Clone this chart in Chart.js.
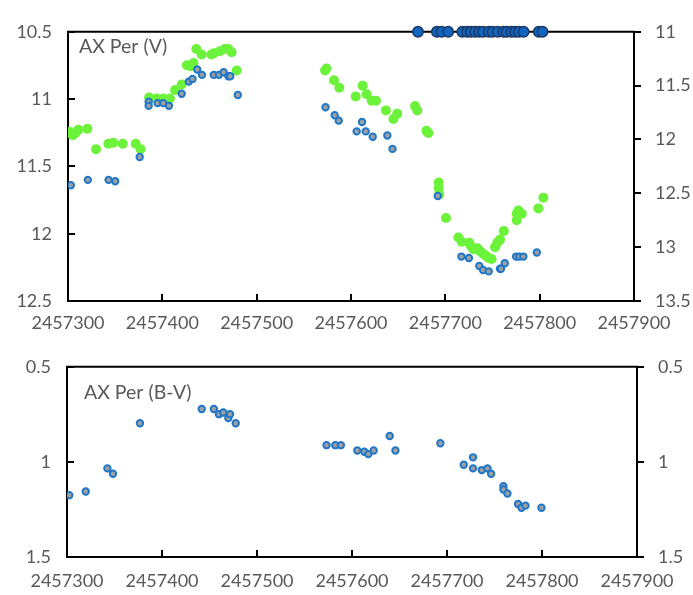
<!DOCTYPE html>
<html>
<head>
<meta charset="utf-8">
<script src="https://cdn.jsdelivr.net/npm/chart.js@4.4.0/dist/chart.umd.min.js"></script>
<style>
  body { margin: 0; background: #fff; }
  canvas { position: absolute; left: 0; }
  #topChart { top: 0; }
  #botChart { top: 335px; }
</style>
</head>
<body>
<canvas id="topChart" width="693" height="335"></canvas>
<canvas id="botChart" width="693" height="260"></canvas>
<script>
// --- V band (blue rings, left axis) ---
const vJd = [2457303, 2457321, 2457343, 2457350, 2457376, 2457385.5, 2457385.5, 2457395, 2457401, 2457407,
  2457420.5, 2457428, 2457432, 2457437, 2457442, 2457454.5, 2457460, 2457465, 2457470, 2457472, 2457480,
  2457573, 2457582.7, 2457587, 2457606, 2457611.7, 2457615.6, 2457623, 2457638.5, 2457644,
  2457692, 2457717, 2457725, 2457736, 2457740, 2457746, 2457758, 2457759, 2457763, 2457775, 2457778.5, 2457782.7, 2457797];
const vMag = [11.64, 11.60, 11.60, 11.61, 11.43, 11.02, 11.05, 11.03, 11.03, 11.05,
  10.96, 10.87, 10.85, 10.78, 10.82, 10.82, 10.82, 10.80, 10.83, 10.83, 10.97,
  11.06, 11.12, 11.16, 11.24, 11.17, 11.24, 11.28, 11.27, 11.37,
  11.72, 12.17, 12.18, 12.24, 12.27, 12.28, 12.26, 12.26, 12.22, 12.17, 12.17, 12.17, 12.14];

// --- second V series (green, right axis) ---
const gJd = [2457302, 2457305, 2457308, 2457311, 2457320.5, 2457329.7, 2457342.8, 2457348, 2457358, 2457371.8, 2457377,
  2457386, 2457394, 2457401, 2457408, 2457413.5, 2457420.5, 2457426, 2457430, 2457433, 2457436, 2457441.7,
  2457452, 2457454.8, 2457461, 2457466.4, 2457470, 2457473.5, 2457478.8,
  2457572.5, 2457574, 2457582, 2457587.6, 2457605, 2457612.4, 2457616.6, 2457622, 2457626.5, 2457637, 2457645, 2457649,
  2457667.9, 2457670.3, 2457680, 2457682, 2457693, 2457693, 2457693.5, 2457700.7, 2457713.8, 2457717.4,
  2457725.4, 2457727, 2457729.7, 2457734, 2457737, 2457740, 2457743, 2457746, 2457749, 2457752.7, 2457755, 2457758,
  2457762, 2457775.7, 2457777.5, 2457775.7, 2457781, 2457798.6, 2457804];
const gMag = [11.93, 11.96, 11.94, 11.91, 11.90, 12.09, 12.04, 12.03, 12.04, 12.04, 12.09,
  11.61, 11.62, 11.62, 11.62, 11.54, 11.49, 11.31, 11.32, 11.29, 11.16, 11.21,
  11.21, 11.20, 11.18, 11.16, 11.16, 11.19, 11.36,
  11.36, 11.34, 11.45, 11.52, 11.60, 11.50, 11.58, 11.64, 11.64, 11.73, 11.81, 11.76,
  11.69, 11.73, 11.92, 11.94, 12.40, 12.45, 12.51, 12.73, 12.91, 12.95,
  12.96, 12.99, 13.02, 13.01, 13.04, 13.06, 13.08, 13.10, 13.11, 13.00, 12.96, 12.93,
  12.85, 12.69, 12.66, 12.75, 12.69, 12.64, 12.54];

// --- dark markers sitting on the top edge ---
const markJd = [2457671, 2457691, 2457696, 2457703, 2457718, 2457723, 2457727, 2457731.5, 2457736, 2457740,
  2457746, 2457750, 2457755.5, 2457761.5, 2457765, 2457770, 2457774, 2457778, 2457783, 2457799, 2457803];
const markMag = [10.5, 10.5, 10.5, 10.5, 10.5, 10.5, 10.5, 10.5, 10.5, 10.5,
  10.5, 10.5, 10.5, 10.5, 10.5, 10.5, 10.5, 10.5, 10.5, 10.5, 10.5];

// --- B-V colour index ---
const bvJd = [2457302.4, 2457319.7, 2457342.5, 2457348.4, 2457376.8, 2457441.8, 2457454.6, 2457459.9, 2457464.5,
  2457469.8, 2457471.6, 2457477.6, 2457573.2, 2457582.4, 2457588.3, 2457605.6, 2457613, 2457617.2, 2457622.8,
  2457639.7, 2457645.7, 2457693, 2457717.6, 2457727.4, 2457727.4, 2457736.6, 2457742.6, 2457746.4,
  2457759.4, 2457759.4, 2457763.6, 2457774.8, 2457778.4, 2457782.6, 2457799.4];
const bvVal = [1.175, 1.156, 1.034, 1.062, 0.797, 0.722, 0.722, 0.749, 0.740,
  0.770, 0.749, 0.797, 0.912, 0.912, 0.912, 0.940, 0.947, 0.959, 0.940,
  0.864, 0.940, 0.902, 1.015, 0.976, 1.034, 1.043, 1.034, 1.062,
  1.128, 1.145, 1.166, 1.221, 1.241, 1.230, 1.241];

// axis ranges / tick steps
const jdMin = 2457300, jdMax = 2457900, jdStep = 100;
const vMin = 10.5, vMax = 12.5;
const v2Min = 11, v2Max = 13.5;
const bvMin = 0.5, bvMax = 1.5;

const pts = (xs, ys) => xs.map((x, i) => ({ x: x, y: ys[i] }));

Chart.defaults.font.family = 'Lato';
Chart.defaults.font.size = 18;
Chart.defaults.color = '#595959';

// top frame line, inner tick marks, outer right ticks, and the in-plot label
const framePlugin = {
  id: 'frame',
  beforeDatasetsDraw(chart, args, opts) {
    const { ctx, chartArea: a, scales } = chart;
    ctx.save();
    ctx.strokeStyle = '#000';
    ctx.lineWidth = 2;
    ctx.beginPath();
    ctx.moveTo(a.left - 1, a.top);
    ctx.lineTo(a.right + 1, a.top);
    scales.x.ticks.forEach((t, i) => {
      const px = Math.round(scales.x.getPixelForTick(i));
      ctx.moveTo(px, a.bottom);
      ctx.lineTo(px, a.bottom - 7);
    });
    scales.y.ticks.forEach((t, i) => {
      const py = Math.round(scales.y.getPixelForTick(i));
      ctx.moveTo(a.left, py);
      ctx.lineTo(a.left + 7, py);
    });
    scales.y2.ticks.forEach((t, i) => {
      const py = Math.round(scales.y2.getPixelForTick(i));
      ctx.moveTo(a.right, py);
      ctx.lineTo(a.right + 7, py);
    });
    ctx.stroke();
    ctx.fillStyle = '#595959';
    ctx.font = '19.5px Lato';
    ctx.textBaseline = 'middle';
    ctx.fillText(opts.label, opts.lx, opts.ly);
    ctx.restore();
  }
};

function makeAxes(yMin, yMax, y2Min, y2Max, leftW, rightW, xH, xPad) {
  const border = { display: true, color: '#000', width: 2 };
  const grid = { display: false, drawTicks: false };
  return {
    x: {
      type: 'linear', min: jdMin, max: jdMax,
      border: border, grid: grid,
      ticks: { stepSize: jdStep, autoSkip: false, maxRotation: 0, padding: xPad, callback: v => String(v) },
      afterFit: s => { s.height = xH; }
    },
    y: {
      type: 'linear', position: 'left', reverse: true, min: yMin, max: yMax,
      border: border, grid: grid,
      ticks: { stepSize: 0.5, padding: 16, callback: v => String(v) },
      afterFit: s => { s.width = leftW; }
    },
    y2: {
      type: 'linear', position: 'right', reverse: true, min: y2Min, max: y2Max,
      border: border, grid: grid,
      ticks: { stepSize: 0.5, padding: 21, callback: v => String(v) },
      afterFit: s => { s.width = rightW; }
    }
  };
}

new Chart(document.getElementById('topChart').getContext('2d'), {
  type: 'scatter',
  data: {
    datasets: [
      {
        label: 'markers', data: pts(markJd, markMag), yAxisID: 'y', clip: false, order: 0,
        pointRadius: 5.2, backgroundColor: '#0f66c0', borderColor: '#1d3763', borderWidth: 1.5
      },
      {
        label: 'V', data: pts(vJd, vMag), yAxisID: 'y', order: 1,
        pointRadius: 3.2, backgroundColor: '#a0a0a0', borderColor: '#1f77c9', borderWidth: 2
      },
      {
        label: 'V2', data: pts(gJd, gMag), yAxisID: 'y2', order: 2,
        pointRadius: 5, backgroundColor: '#6cf23a', borderWidth: 0
      }
    ]
  },
  options: {
    responsive: false,
    animation: false,
    layout: { padding: { top: 20, left: 0, right: 0, bottom: 0 } },
    scales: makeAxes(vMin, vMax, v2Min, v2Max, 68, 59, 34, 11),
    plugins: {
      legend: { display: false },
      tooltip: { enabled: false },
      frame: { label: 'AX Per (V)', lx: 79, ly: 47 }
    }
  },
  plugins: [framePlugin]
});

new Chart(document.getElementById('botChart').getContext('2d'), {
  type: 'scatter',
  data: {
    datasets: [
      {
        label: 'B-V', data: pts(bvJd, bvVal), yAxisID: 'y',
        pointRadius: 3.2, backgroundColor: '#a0a0a0', borderColor: '#1f77c9', borderWidth: 2
      }
    ]
  },
  options: {
    responsive: false,
    animation: false,
    layout: { padding: { top: 30, left: 0, right: 0, bottom: 0 } },
    scales: makeAxes(bvMin, bvMax, bvMin, bvMax, 67, 56, 38, 13),
    plugins: {
      legend: { display: false },
      tooltip: { enabled: false },
      frame: { label: 'AX Per (B-V)', lx: 84, ly: 58 }
    }
  },
  plugins: [framePlugin]
});
</script>
</body>
</html>
